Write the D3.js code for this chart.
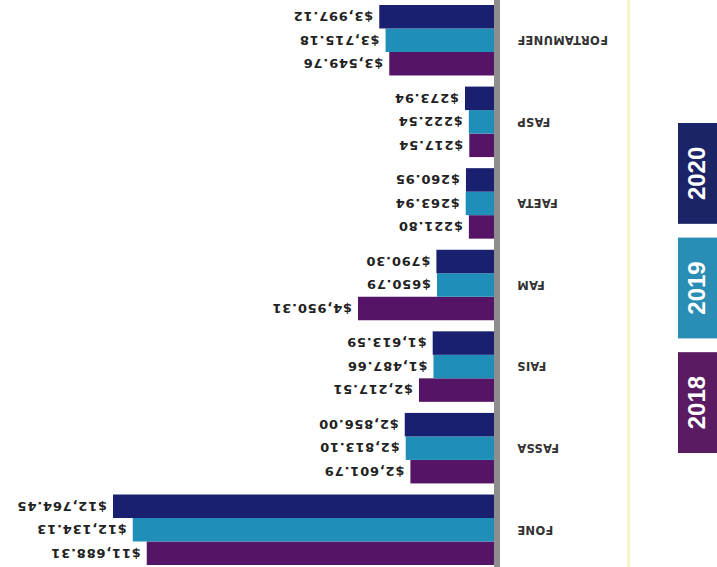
<!DOCTYPE html>
<html>
<head>
<meta charset="utf-8">
<script src="https://cdn.jsdelivr.net/npm/d3@7"></script>
<style>
  html, body { margin: 0; padding: 0; background: #fff; }
  svg { display: block; }
</style>
</head>
<body>
<div id="chart"></div>
<script>
// Data (chart is printed upside down, so it is drawn normally then turned 180deg)
const categories = ['FONE', 'FASSA', 'FAIS', 'FAM', 'FAETA', 'FASP', 'FORTAMUNEF'];
const years = ['2018', '2019', '2020'];
const values2018 = [11688.31, 2601.79, 2217.51, 4950.31, 221.80, 217.54, 3549.76];
const values2019 = [12134.13, 2813.10, 1487.66, 650.79, 263.94, 222.54, 3715.18];
const values2020 = [12764.45, 2856.00, 1613.59, 790.30, 260.95, 273.94, 3997.12];
const legendYears = ['2020', '2019', '2018'];

const colors = { '2018': '#561466', '2019': '#1f8fb9', '2020': '#1a2070' };
const legendColors = { '2018': '#5a1b62', '2019': '#2a8db5', '2020': '#1c2468' };

const series = { '2018': values2018, '2019': values2019, '2020': values2020 };
const rows = categories.map((c, i) => ({
  cat: c,
  bars: years.map(y => ({ year: y, value: series[y][i] }))
}));

const width = 717;
const height = 567;
const barBase = 223;

const svg = d3.select('#chart')
  .append('svg')
  .attr('width', width)
  .attr('height', height);

const root = svg.append('g')
  .attr('transform', `rotate(180 ${width / 2} ${height / 2})`);

// the print does not keep bar lengths proportional, so the scale bends a little
const x = d3.scaleLinear()
  .domain([0, 220, 650, 1600, 2217, 4950, 12764.45])
  .range([0, 25, 57, 61, 75, 136, 381]);

const y = d3.scaleBand()
  .domain(categories)
  .range([2, 562])
  .paddingInner(0.136);

const yInner = d3.scaleBand()
  .domain(years)
  .range([0, y.bandwidth()]);

// faint yellow rule
root.append('rect')
  .attr('x', 87).attr('y', 0)
  .attr('width', 3).attr('height', height)
  .attr('fill', '#f6f4c6');

// bars
const groups = root.selectAll('.grp')
  .data(rows)
  .enter()
  .append('g')
  .attr('class', 'grp')
  .attr('transform', d => `translate(0,${y(d.cat)})`);

groups.selectAll('rect')
  .data(d => d.bars)
  .enter()
  .append('rect')
  .attr('x', barBase)
  .attr('y', d => yInner(d.year))
  .attr('width', d => x(d.value))
  .attr('height', yInner.bandwidth())
  .attr('fill', d => colors[d.year]);

groups.selectAll('.val')
  .data(d => d.bars)
  .enter()
  .append('text')
  .attr('class', 'val')
  .attr('x', d => barBase + x(d.value) + 6)
  .attr('y', d => yInner(d.year) + yInner.bandwidth() / 2)
  .attr('dy', '0.36em')
  .style('font-family', 'DejaVu Sans')
  .style('font-weight', 'bold')
  .style('font-size', '13px')
  .style('letter-spacing', '0.8px')
  .attr('fill', '#222')
  .text(d => '$' + d3.format(',.2f')(d.value));

// category labels
groups.append('text')
  .attr('x', 200)
  .attr('y', y.bandwidth() / 2)
  .attr('dy', '0.36em')
  .attr('text-anchor', 'end')
  .style('font-family', 'DejaVu Sans')
  .style('font-weight', 'bold')
  .style('font-size', '11.5px')
  .style('letter-spacing', '0.3px')
  .attr('fill', '#333')
  .text(d => d.cat);

// axis rule
root.append('rect')
  .attr('x', barBase - 6).attr('y', 0)
  .attr('width', 6).attr('height', height)
  .attr('fill', '#8e8e8e');

// legend boxes
const legend = d3.scaleBand()
  .domain(legendYears)
  .range([444, 114])
  .paddingInner(0.12);

const lg = root.selectAll('.leg')
  .data(legendYears)
  .enter()
  .append('g')
  .attr('class', 'leg');

lg.append('rect')
  .attr('x', 0)
  .attr('y', d => legend(d))
  .attr('width', 39)
  .attr('height', legend.bandwidth())
  .attr('fill', d => legendColors[d]);

lg.append('text')
  .attr('transform', d => `translate(21,${legend(d) + legend.bandwidth() / 2}) rotate(90)`)
  .attr('text-anchor', 'middle')
  .attr('dy', '0.36em')
  .style('font-family', 'Liberation Sans')
  .style('font-weight', 'bold')
  .style('font-size', '24px')
  .attr('fill', '#fff')
  .text(d => d);
</script>
</body>
</html>
